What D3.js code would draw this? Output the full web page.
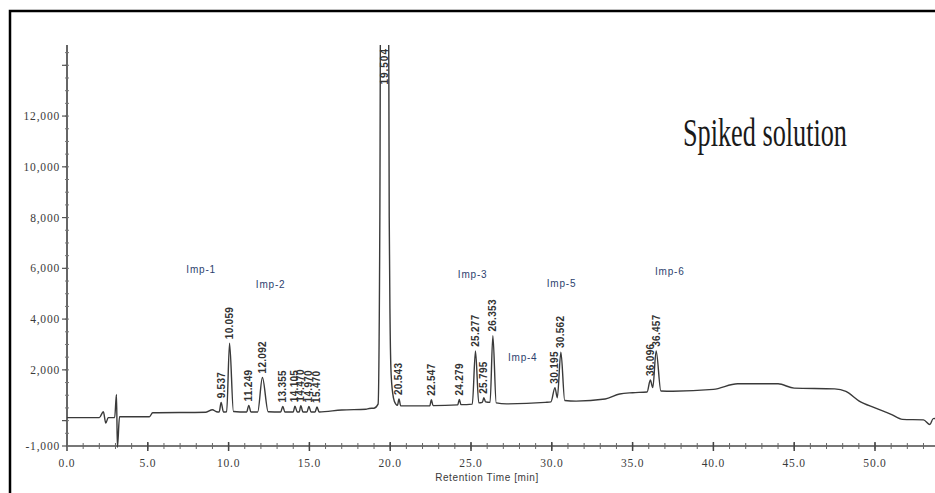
<!DOCTYPE html>
<html>
<head>
<meta charset="utf-8">
<script src="https://cdn.jsdelivr.net/npm/d3@7"></script>
<style>
    html, body { margin: 0; padding: 0; background: #fff; overflow: hidden; }
    svg { display: block; }
</style>
</head>
<body>
<div id="chart"></div>
<script>
// Chromatogram of the spiked solution

// trace (retention time in min, signal)
const traceTime = [
    0.0, 2.0, 2.25, 2.4, 2.55, 2.95, 3.06, 3.12, 3.25, 5.1, 5.3, 8.6, 9.0, 9.25,
    9.42, 9.537, 9.68, 9.88, 10.059, 10.3, 11.12, 11.249, 11.38, 11.8, 12.092, 12.45,
    13.22, 13.355, 13.48, 14.0, 14.105, 14.25, 14.37, 14.47, 14.6, 14.85, 14.97, 15.1,
    15.35, 15.47, 15.6, 17.0, 18.5, 18.7, 19.0, 19.25, 19.36, 19.42, 19.88, 19.94,
    19.99, 20.06, 20.2, 20.35, 20.45, 20.543, 20.65, 21.5, 22.45, 22.547, 22.65,
    24.18, 24.279, 24.38, 25.08, 25.277, 25.48, 25.7, 25.795, 25.9, 26.18, 26.353, 26.56,
    27.2, 29.6, 29.95, 30.195, 30.34, 30.562, 30.8, 31.5, 33.3, 34.2, 35.0, 35.9,
    36.096, 36.25, 36.457, 36.75, 37.5, 40.0, 41.5, 44.0, 45.0, 47.5, 48.2, 49.0,
    50.0, 51.0, 51.7, 53.0, 53.4, 53.6, 54.5
];
const traceSignal = [
    120, 120, 350, -100, 120, 120, 1030, -1050, 150, 150, 310, 330, 430, 350,
    340, 720, 340, 350, 3050, 360, 340, 600, 340, 340, 1700, 350,
    340, 560, 340, 340, 570, 340, 340, 590, 340, 340, 560, 340,
    340, 540, 340, 420, 450, 480, 490, 650, 8000, 20000, 20000, 8000,
    4000, 1800, 900, 650, 600, 850, 580, 580, 580, 820, 590,
    620, 830, 630, 650, 2750, 700, 720, 900, 740, 720, 3350, 700,
    660, 720, 740, 1300, 900, 2700, 790, 770, 850, 1050, 1100, 1130,
    1600, 1300, 2750, 1170, 1160, 1230, 1450, 1450, 1280, 1250, 1150, 780,
    500, 250, 50, 30, -150, 80, 100
];

// labelled peaks
const peakTimes = [9.537, 10.059, 11.249, 12.092, 13.355, 14.105, 14.470, 14.970, 15.470,
    20.543, 22.547, 24.279, 25.277, 25.795, 26.353, 30.195, 30.562, 36.096, 36.457];
const peakLabels = ['9.537', '10.059', '11.249', '12.092', '13.355', '14.105', '14.470', '14.970', '15.470',
    '20.543', '22.547', '24.279', '25.277', '25.795', '26.353', '30.195', '30.562', '36.096', '36.457'];
const mainPeakTime = 19.65;
const mainPeakLabel = '19.504';

// impurity annotations
const impNames = ['Imp-1', 'Imp-2', 'Imp-3', 'Imp-4', 'Imp-5', 'Imp-6'];
const impTime = [8.3, 12.6, 25.1, 28.2, 30.6, 37.3];
const impSignal = [5950, 5350, 5750, 2470, 5420, 5860];

// axis ticks
const xMajorTicks = [0, 5, 10, 15, 20, 25, 30, 35, 40, 45, 50];
const xTickLabels = ['0.0', '5.0', '10.0', '15.0', '20.0', '25.0', '30.0', '35.0', '40.0', '45.0', '50.0'];
const yMajorTicks = [-1000, 0, 2000, 4000, 6000, 8000, 10000, 12000, 14000];
const yTickLabels = ['-1,000', '', '2,000', '4,000', '6,000', '8,000', '10,000', '12,000', ''];

const W = 935, H = 493;
const plot = { left: 67, right: 940, top: 45, bottom: 446 };

const svg = d3.select('#chart').append('svg')
    .attr('width', W)
    .attr('height', H);

// frame
svg.append('rect')
    .attr('x', 10).attr('y', 11)
    .attr('width', 940).attr('height', 500)
    .attr('fill', 'none')
    .attr('stroke', '#000')
    .attr('stroke-width', 2.5);

const x = d3.scaleLinear().domain([0, 54]).range([plot.left, plot.left + 54 * 16.16]);
const y = d3.scaleLinear().domain([-1000, 14800]).range([plot.bottom, plot.top]);

const tickFont = 'Liberation Serif, serif';

// x axis
const xAxis = svg.append('g').attr('transform', `translate(0,${plot.bottom})`);
xAxis.append('line')
    .attr('x1', plot.left).attr('x2', W)
    .attr('stroke', '#777').attr('stroke-width', 2);
xAxis.selectAll('.xminor')
    .data(d3.range(1, 55))
    .enter().append('line')
    .attr('x1', d => x(d)).attr('x2', d => x(d))
    .attr('y1', -3).attr('y2', 3)
    .attr('stroke', '#666').attr('stroke-width', 1);
xAxis.selectAll('.xmajor')
    .data(xMajorTicks)
    .enter().append('line')
    .attr('x1', d => x(d)).attr('x2', d => x(d))
    .attr('y1', -4).attr('y2', 5)
    .attr('stroke', '#444').attr('stroke-width', 1.5);
xAxis.selectAll('.xlabel')
    .data(xMajorTicks)
    .enter().append('text')
    .attr('x', d => x(d))
    .attr('y', 21)
    .attr('text-anchor', 'middle')
    .attr('font-family', tickFont)
    .attr('font-size', 11.5)
    .attr('letter-spacing', 0.8)
    .attr('fill', '#3a3a3a')
    .text((d, i) => xTickLabels[i]);

svg.append('text')
    .attr('x', 487)
    .attr('y', 481)
    .attr('text-anchor', 'middle')
    .attr('font-family', 'Liberation Sans, Arial, sans-serif')
    .attr('font-size', 10)
    .attr('letter-spacing', 0.6)
    .attr('fill', '#3a3a3a')
    .text('Retention Time [min]');

// y axis
const yAxis = svg.append('g').attr('transform', `translate(${plot.left},0)`);
yAxis.append('line')
    .attr('y1', plot.top).attr('y2', plot.bottom + 1)
    .attr('stroke', '#666').attr('stroke-width', 2);
yAxis.selectAll('.yminor')
    .data(d3.range(-500, 14800, 500))
    .enter().append('line')
    .attr('x1', -2).attr('x2', 2)
    .attr('y1', d => y(d)).attr('y2', d => y(d))
    .attr('stroke', '#777').attr('stroke-width', 1);
yAxis.selectAll('.ymajor')
    .data(yMajorTicks)
    .enter().append('line')
    .attr('x1', -5).attr('x2', 0)
    .attr('y1', d => y(d)).attr('y2', d => y(d))
    .attr('stroke', '#555').attr('stroke-width', 1.2);
yAxis.selectAll('.ylabel')
    .data(yMajorTicks)
    .enter().append('text')
    .attr('x', -7)
    .attr('y', d => y(d))
    .attr('dy', '0.35em')
    .attr('text-anchor', 'end')
    .attr('font-family', tickFont)
    .attr('font-size', 11.5)
    .attr('letter-spacing', 0.8)
    .attr('fill', '#3a3a3a')
    .text((d, i) => yTickLabels[i]);

// trace
svg.append('clipPath').attr('id', 'plotclip')
    .append('rect')
    .attr('x', plot.left).attr('y', plot.top)
    .attr('width', W - plot.left).attr('height', plot.bottom - plot.top + 5);

const trace = traceTime.map((t, i) => [t, traceSignal[i]]);
const line = d3.line()
    .x(d => x(d[0]))
    .y(d => y(d[1]))
    .curve(d3.curveMonotoneX);

svg.append('path')
    .datum(trace)
    .attr('clip-path', 'url(#plotclip)')
    .attr('d', line)
    .attr('fill', 'none')
    .attr('stroke', '#3a3a3a')
    .attr('stroke-width', 1.4);

// peak labels
const labelFont = 'Liberation Sans, Arial, sans-serif';
svg.selectAll('.peaklabel')
    .data(peakTimes)
    .enter().append('text')
    .attr('class', 'peaklabel')
    .attr('transform', d => {
        const apex = traceSignal[traceTime.indexOf(d)];
        return `translate(${x(d)},${y(apex) - 4}) rotate(-90)`;
    })
    .attr('dy', '0.35em')
    .attr('text-anchor', 'start')
    .attr('font-family', labelFont)
    .attr('font-size', 10)
    .attr('font-weight', 'bold')
    .attr('letter-spacing', 0.3)
    .attr('fill', '#333')
    .text((d, i) => peakLabels[i]);

svg.append('text')
    .attr('transform', `translate(${x(mainPeakTime)},${plot.top + 3}) rotate(-90)`)
    .attr('dy', '0.35em')
    .attr('text-anchor', 'end')
    .attr('font-family', labelFont)
    .attr('font-size', 10)
    .attr('font-weight', 'bold')
    .attr('letter-spacing', 1)
    .attr('fill', '#333')
    .text(mainPeakLabel);

// impurity names
svg.selectAll('.imp')
    .data(impNames)
    .enter().append('text')
    .attr('x', (d, i) => x(impTime[i]))
    .attr('y', (d, i) => y(impSignal[i]))
    .attr('dy', '0.35em')
    .attr('text-anchor', 'middle')
    .attr('font-family', labelFont)
    .attr('font-size', 10)
    .attr('letter-spacing', 0.8)
    .attr('fill', '#2d3f6e')
    .text(d => d);

// title
svg.append('text')
    .attr('x', 683)
    .attr('y', 146)
    .attr('font-family', 'Liberation Serif, Times New Roman, serif')
    .attr('font-size', 40)
    .attr('textLength', 164)
    .attr('lengthAdjust', 'spacingAndGlyphs')
    .attr('fill', '#1a1a1a')
    .text('Spiked solution');
</script>
</body>
</html>
